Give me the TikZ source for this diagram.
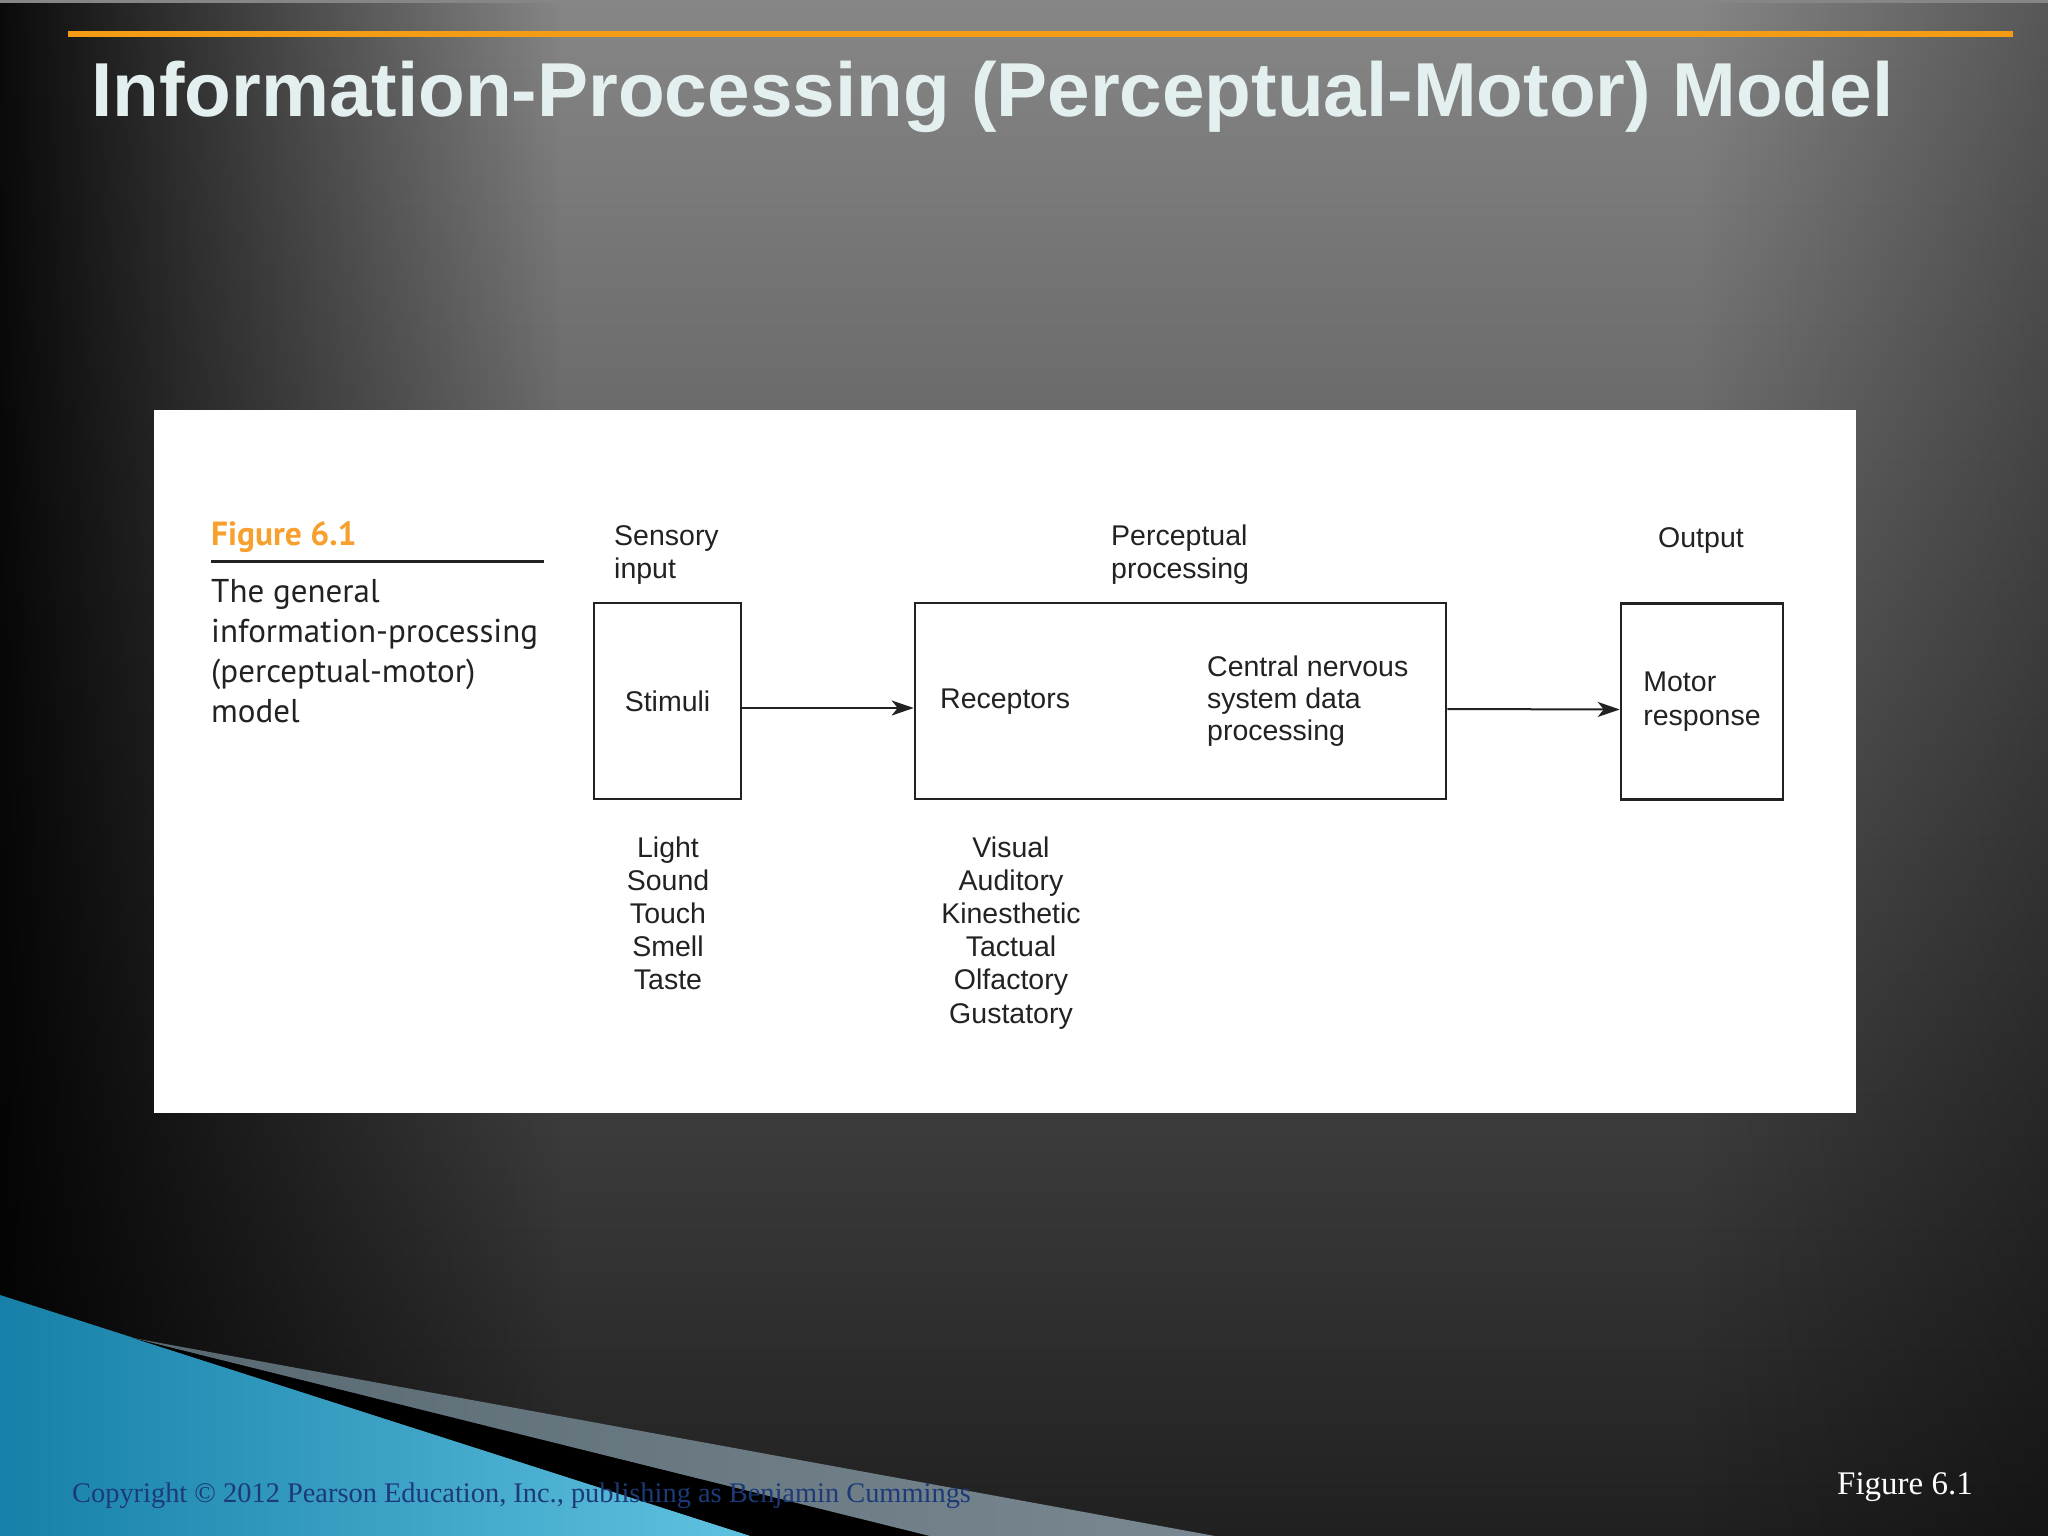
\documentclass[tikz,border=0pt]{standalone}
\usepackage{fontspec}
\setmainfont{Liberation Sans}
\newfontfamily\capfont{PT Sans}
\newfontfamily\serfont{Liberation Serif}
\usetikzlibrary{arrows.meta,fadings}
\definecolor{orangeline}{RGB}{245,155,20}
\definecolor{figorange}{RGB}{247,160,45}
\definecolor{titlecol}{RGB}{228,240,240}
\definecolor{bluedark}{RGB}{22,128,168}
\definecolor{bluelight}{RGB}{96,194,225}
\definecolor{slate}{RGB}{88,104,113}
\definecolor{slatelight}{RGB}{122,137,145}
\definecolor{navy}{RGB}{28,58,120}
\definecolor{ink}{RGB}{34,34,34}
\definecolor{bgtop}{RGB}{134,134,134}
\definecolor{bgmid}{RGB}{62,62,62}
\definecolor{bgbot}{RGB}{32,32,32}
\tikzfading[name=fadeleft, left color=transparent!0, middle color=transparent!75, right color=transparent!100]
\tikzfading[name=faderight, left color=transparent!100, right color=transparent!0]
\begin{document}
\begin{tikzpicture}[x=1pt,y=-1pt,
  box/.style={draw=ink, line width=2.6pt, inner sep=0pt, text=ink, font=\fontsize{28.5}{34}\selectfont},
  lbl/.style={font=\fontsize{28.5}{32}\selectfont, text=ink, inner sep=0pt, anchor=base west},
  clbl/.style={lbl, anchor=base},
  captext/.style={font=\capfont\fontsize{33}{36}\selectfont, text=ink, inner sep=0pt, anchor=base west},
  arr/.style={draw=ink, line width=2pt, -{Stealth[length=22pt,width=15pt,inset=6pt]}},
]
\useasboundingbox (0,0) rectangle (2048,1536);
% background
\shade[top color=bgtop, middle color=bgmid, bottom color=bgbot] (0,0) rectangle (2048,1536);
\fill[black, path fading=fadeleft, opacity=0.92] (0,0) rectangle (560,1536);
\fill[black, path fading=faderight, opacity=0.35] (1700,0) rectangle (2048,1536);
% orange line and title
\fill[orangeline] (68,31) rectangle (2013,37);
\node[anchor=base west, inner sep=0pt, text=titlecol, font=\fontsize{76.5}{80}\selectfont\bfseries] (title) at (91,117) {Information-Processing (Perceptual-Motor) Model};
% white panel
\fill[white] (154,410) rectangle (1856,1113);
% caption
\node[anchor=base west, inner sep=0pt, text=figorange, font=\capfont\bfseries\fontsize{33.5}{36}\selectfont] (fig) at (211,545) {Figure 6.1};
\draw[ink, line width=3pt] (211,561) -- (544,561);
\node[captext] (c1) at (211,602) {The general};
\node[captext] (c2) at (211,642) {information-processing};
\node[captext] (c3) at (211,682) {(perceptual-motor)};
\node[captext] (c4) at (211,722) {model};
% boxes
\node[box, minimum width=147pt, minimum height=196pt] (stim) at (667.5,701) {Stimuli};
\node[box, minimum width=531pt, minimum height=196pt] (perc) at (1180.5,701) {};
\node[box, minimum width=162pt, minimum height=196pt, align=left] (motor) at (1702,701.5) {Motor\\response};
% arrows
\draw[arr] ([yshift=-7pt]stim.east) -- ([yshift=-7pt]perc.west);
\draw[arr] ([yshift=-8pt]perc.east) -- ([yshift=-8pt]motor.west);
% labels
\node[lbl] (sens1) at (614,545) {Sensory};
\node[lbl] (sens2) at (614,578) {input};
\node[lbl] (perc1) at (1111,545) {Perceptual};
\node[lbl] (perc2) at (1111,578) {processing};
\node[lbl] (out) at (1658,547) {Output};
\node[lbl] (rec) at (940,708) {Receptors};
\node[lbl] (cns1) at (1207,676) {Central nervous};
\node[lbl] (cns2) at (1207,708) {system data};
\node[lbl] (cns3) at (1207,740) {processing};
\foreach \t [count=\i] in {Light,Sound,Touch,Smell,Taste}
  \node[clbl] (st\i) at (668,{857+33*(\i-1)}) {\t};
\foreach \t [count=\i] in {Visual,Auditory,Kinesthetic,Tactual,Olfactory,Gustatory}
  \node[clbl] (rc\i) at (1011,{857+33.2*(\i-1)}) {\t};
% bottom swoosh
\shade[left color=bluedark, right color=bluelight] (0,1295) -- (751,1536) -- (0,1536) -- cycle;
\fill[black] (133,1338) -- (930,1536) -- (751,1536) -- cycle;
\shade[left color=slate, right color=slatelight] (133,1338) -- (1215,1536) -- (930,1536) -- cycle;
% footer texts
\node[anchor=base west, inner sep=0pt, text=navy, font=\serfont\fontsize{28.4}{32}\selectfont] (copy) at (72,1502) {Copyright © 2012 Pearson Education, Inc., publishing as Benjamin Cummings};
\node[anchor=base west, inner sep=0pt, text=white, font=\serfont\fontsize{33}{35}\selectfont] (fignum) at (1837,1494) {Figure 6.1};
\end{tikzpicture}
\end{document}
